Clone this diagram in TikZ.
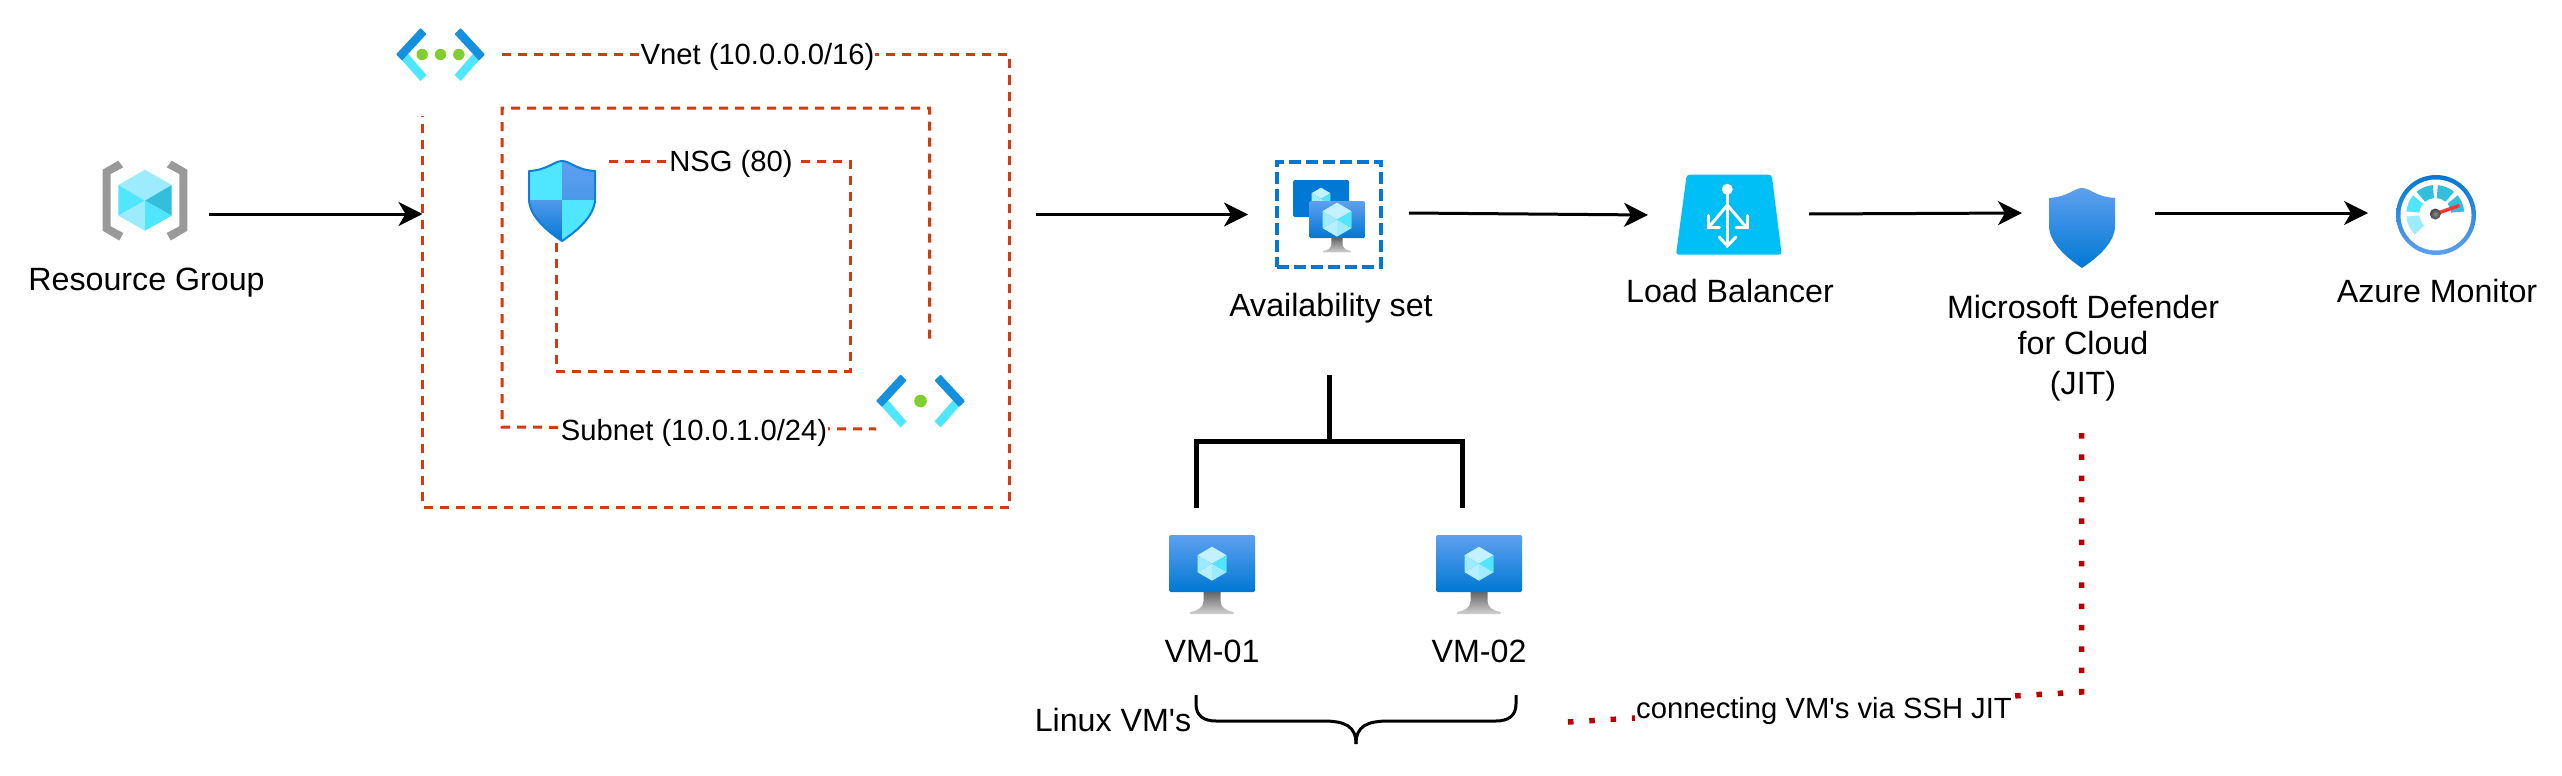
\documentclass[tikz,border=0pt]{standalone}
\usepackage{fontspec}
\setmainfont{Liberation Sans}
\newfontfamily\plainf{Liberation Sans}
\usetikzlibrary{arrows.meta}
\definecolor{azdark}{HTML}{0078D4}
\definecolor{azmid}{HTML}{5EA0EF}
\definecolor{azcyan}{HTML}{50E6FF}
\definecolor{azteal}{HTML}{32BEDD}
\definecolor{azpale}{HTML}{9CEBFF}
\definecolor{azpaler}{HTML}{C3F1FF}
\definecolor{azarm}{HTML}{1490DF}
\definecolor{azgreen}{HTML}{7FCF2E}
\definecolor{azlb}{HTML}{00BEF6}
\definecolor{azgrey}{HTML}{999999}
\definecolor{netred}{HTML}{D13A12}
\definecolor{jitred}{HTML}{B80000}
\newcommand{\shieldoutline}{(0,-40) .. controls (-8,-40) and (-14,-31) .. (-33,-30) -- (-33,-2) .. controls (-33,16) and (-12,32) .. (0,40) .. controls (12,32) and (33,16) .. (33,-2) -- (33,-30) .. controls (14,-31) and (8,-40) .. (0,-40) -- cycle}
\tikzset{
  iconbox/.style={inner sep=0pt,outer sep=0pt},
  bigtext/.style={font=\plainf\fontsize{32.2}{38}\selectfont,inner sep=0pt,anchor=base,align=center},
  edgetext/.style={font=\plainf\fontsize{29.2}{34}\selectfont,fill=white,inner xsep=1pt,inner ysep=3pt,anchor=base},
  flow/.style={line width=3pt,draw=black,-{Stealth[length=24pt,width=24pt,inset=7pt]}},
  netline/.style={line width=3pt,draw=netred,dash pattern=on 9pt off 7pt},
  jitline/.style={line width=5.5pt,draw=jitred,dash pattern=on 5.5pt off 15.83pt},
  treeline/.style={line width=5pt,draw=black},
  braceline/.style={line width=3pt,draw=black},
  availbox/.style={iconbox,draw=azdark,line width=3.5pt,dash pattern=on 12pt off 5pt},
  pics/cubehex/.style={code={
    \fill[azpaler] (0,-17) -- (14.5,-8.5) -- (0,0) -- (-14.5,-8.5) -- cycle;
    \fill[azcyan] (14.5,-8.5) -- (14.5,8.5) -- (0,0) -- cycle;
    \fill[azpale] (-14.5,-8.5) -- (-14.5,8.5) -- (0,0) -- cycle;
    \fill[azpaler!70!azpale] (-14.5,8.5) -- (0,17) -- (0,0) -- cycle;
    \fill[azpale] (14.5,8.5) -- (0,17) -- (0,0) -- cycle;
  }},
  pics/vmicon/.style={code={
    \shade[top color=black!60,bottom color=black!18] (-8.5,57) -- (8.5,57) -- (8.5,66) .. controls (8.5,73) and (15,76) .. (21.5,77) -- (21.5,79) -- (-21.5,79) -- (-21.5,77) .. controls (-15,76) and (-8.5,73) .. (-8.5,66) -- cycle;
    \shade[top color=azmid,bottom color=azdark,rounded corners=1.5pt] (-43,0) rectangle (43,57);
    \pic at (0,28.7) {cubehex};
  }},
  pics/chevrons/.style={code={
    \foreach \s in {-1,1}{
      \fill[azcyan] (\s*41,3) -- (\s*34.5,-3) -- (\s*14,20.5) -- (\s*20,26.5) -- cycle;
      \fill[azarm,rounded corners=1pt] (\s*44.5,0) -- (\s*20,-26.5) -- (\s*14,-20.5) -- (\s*33,0) -- (\s*38.5,6) -- cycle;
    }
  }},
  pics/shieldquad/.style={code={
    \begin{scope}
      \clip \shieldoutline;
      \fill[azcyan] (-34,-41) rectangle (0,-1);
      \shade[top color=azmid,bottom color=azmid!80!azdark] (0,-41) rectangle (34,-1);
      \shade[top color=azmid!85!azdark,bottom color=azdark] (-34,-1) rectangle (0,41);
      \fill[azcyan] (0,-1) rectangle (34,41);
    \end{scope}
    \draw[azdark!85!azmid,line width=2pt,line join=round] \shieldoutline;
  }},
  pics/shieldplain/.style={code={
    \shade[top color=azmid,bottom color=azdark] \shieldoutline;
  }},
}
\begin{document}
\begin{tikzpicture}[x=1pt,y=-1pt]
\useasboundingbox (0,0) rectangle (2562,776);
\fill[white] (0,0) rectangle (2562,776);

% icon anchors
\node[iconbox,minimum width=85pt,minimum height=81pt] (rg) at (145,201.5) {};
\node[iconbox,minimum width=89pt,minimum height=53pt] (vnet) at (440.5,54.5) {};
\node[iconbox,minimum width=66pt,minimum height=81pt] (nsg) at (562,201) {};
\node[iconbox,minimum width=89pt,minimum height=53pt] (subnet) at (920.5,401) {};
\node[availbox,minimum width=104pt,minimum height=105pt] (avail) at (1329,214.5) {};
\node[iconbox,minimum width=106pt,minimum height=80pt] (lb) at (1729,215) {};
\node[iconbox,minimum width=66pt,minimum height=80pt] (def) at (2082,228) {};
\node[iconbox,minimum width=80pt,minimum height=80pt] (mon) at (2436,215) {};
\node[iconbox,minimum width=86pt,minimum height=79pt] (vma) at (1212,574.5) {};
\node[iconbox,minimum width=86pt,minimum height=79pt] (vmb) at (1479,574.5) {};

% free connector ends
\coordinate (vnetin) at (422.5,214);
\coordinate (vnetout) at (1036,214.5);
\coordinate (treetop) at (1329,375);
\coordinate (treehub) at (1329,441);
\coordinate (treea) at (1196,508);
\coordinate (treeb) at (1462,508);
\coordinate (jitstart) at (2081.5,433);
\coordinate (jitcorner) at (2081.5,692);
\coordinate (jitend) at (1568,722);

% resource group icon
\begin{scope}[yshift=1pt]
\fill[azgrey] (102.7,170.7) -- (118.3,161.7) -- (123.3,168.3) -- (110.7,175) -- (110.7,227.3) -- (123.3,234) -- (119.3,241.5) -- (102.7,231.7) -- cycle;
\fill[azgrey] (187.3,170.7) -- (171.7,161.7) -- (166.7,168.3) -- (179.3,175) -- (179.3,227.3) -- (166.7,234) -- (170.7,241.5) -- (187.3,231.7) -- cycle;
\fill[azpale] (145,170.7) -- (171.7,186) -- (145,201.7) -- (118.3,186) -- cycle;
\fill[azcyan] (118.3,186) -- (145,201.7) -- (118.3,216.7) -- cycle;
\fill[azteal] (171.7,186) -- (145,201.7) -- (171.7,216.7) -- cycle;
\fill[azpale] (118.3,216.7) -- (145,201.7) -- (145,231.7) -- cycle;
\fill[azcyan] (171.7,216.7) -- (145,201.7) -- (145,231.7) -- cycle;
\end{scope}

% network frames
\draw[netline] ([xshift=17pt]vnet.east) -- (1009,54.5) -- (1009,507) -- (422.5,507) -- ([xshift=-18pt,yshift=-35pt]vnet.south);
\draw[netline] ([xshift=9pt,yshift=36pt]subnet.north) -- (929.5,108) -- (502,108) -- (502,427) -- ([yshift=-28pt]subnet.west);
\draw[netline] ([xshift=14pt,yshift=40pt]nsg.east) -- (850,161) -- (850,371) -- (556,371) -- ([xshift=-6pt]nsg.south);

% vnet icon
\pic at (vnet) {chevrons};
\foreach \dx in {-18.3,0,18.3} \fill[azgreen] ([xshift=\dx pt]vnet.center) circle[radius=5.7pt];
% subnet icon
\pic at (subnet) {chevrons};
\fill[azgreen] (subnet.center) circle[radius=6.3pt];
% nsg icon
\pic at (nsg) {shieldquad};

% availability set icon
\fill[azdark,rounded corners=1.5pt] (1293,180) rectangle (1349,217);
\pic[scale=0.65] at (1321,198.7) {cubehex};
\pic[scale=0.65] at (1337,201) {vmicon};

% load balancer icon
\fill[azlb,rounded corners=3pt] (1686.7,174.7) -- (1771.7,174.7) -- (1781.7,254.7) -- (1676,254.7) -- cycle;
\fill[white] (1727.3,189.3) circle[radius=5.5pt];
\begin{scope}[draw=white,line width=3pt,line cap=round,line join=miter]
  \draw (1727.3,189.3) -- (1727.3,245);
  \draw (1727.3,205) -- (1709,227);
  \draw (1727.3,205) -- (1746,227);
  \draw (1708.3,215.5) -- (1708.3,227.7) -- (1719.3,227.7);
  \draw (1747.3,215.5) -- (1747.3,227.7) -- (1736,227.7);
  \draw (1719.3,237) -- (1727.3,246) -- (1736,237);
\end{scope}

% defender icon
\pic at (def) {shieldplain};

% monitor icon
\shade[top color=azdark,bottom color=azmid] (mon.center) circle[radius=40pt];
\fill[white] (mon.center) circle[radius=35.5pt];
\begin{scope}[shift={(2435.3,214)},y=1pt]
  \foreach \aa/\ab/\cc in {5/40/azteal,50/85/azteal,95/130/azteal,140/175/azcyan,185/225/azpale}{
    \fill[\cc] (\aa:29) arc[start angle=\aa,end angle=\ab,radius=29] -- (\ab:16) arc[start angle=\ab,end angle=\aa,radius=16] -- cycle;
  }
  \draw[draw=red!80!white,line width=3.5pt] (0,0) -- (24,8.5);
  \shade[inner color=black!45,outer color=black!75] (0,0) circle[radius=5.5];
\end{scope}

% vm icons
\pic at (vma.north) {vmicon};
\pic at (vmb.north) {vmicon};

% flow arrows
\draw[flow] ([xshift=21.5pt,yshift=-12.5pt]rg.east) -- (vnetin);
\draw[flow] (vnetout) -- ([xshift=-29pt]avail.west);
\draw[flow] ([xshift=28pt,yshift=1.5pt]avail.east) -- ([xshift=-28pt]lb.west);
\draw[flow] ([xshift=27pt,yshift=1pt]lb.east) -- ([xshift=-27pt,yshift=15pt]def.west);
\draw[flow] ([xshift=40pt,yshift=15pt]def.east) -- ([xshift=-28pt,yshift=2pt]mon.west);

% tree to the VMs
\draw[treeline] (treetop) -- (treehub);
\draw[treeline] (treea) -- (treea |- treehub) -- (treeb |- treehub) -- (treeb);

% curly brace
\draw[braceline] (1196,695) -- (1196,704) .. controls (1196,716) and (1204,721) .. (1216,721) -- (1323,721) .. controls (1345,721) and (1356,726) .. (1356,744);
\draw[braceline] (1516,695) -- (1516,704) .. controls (1516,716) and (1508,721) .. (1496,721) -- (1389,721) .. controls (1367,721) and (1356,726) .. (1356,744);

% JIT dotted link
\draw[jitline] (jitstart) -- (jitcorner) -- (jitend);

% edge labels
\node[edgetext] (vnetlabel) at (757.5,64.5) {Vnet (10.0.0.0/16)};
\node[edgetext] (nsglabel) at (731,171) {NSG (80)};
\node[edgetext] (subnetlabel) at (694,440) {Subnet (10.0.1.0/24)};
\node[edgetext,inner ysep=6pt] (jitlabel) at (1824,718) {connecting VM's via SSH JIT};

% labels
\node[bigtext] (rglabel) at (146.5,290) {Resource Group};
\node[bigtext] (availlabel) at (1331,316) {Availability set};
\node[bigtext] (lblabel) at (1730,302) {Load Balancer};
\node[bigtext,anchor=north] (deflabel) at (2083,295) {Microsoft Defender\\[-2pt]for Cloud\\[2pt](JIT)};
\node[bigtext] (monlabel) at (2437,302) {Azure Monitor};
\node[bigtext] (vmalabel) at (1212,662) {VM-01};
\node[bigtext] (vmblabel) at (1479,662) {VM-02};
\node[bigtext] (linuxlabel) at (1113,731) {Linux VM's};
\end{tikzpicture}
\end{document}
